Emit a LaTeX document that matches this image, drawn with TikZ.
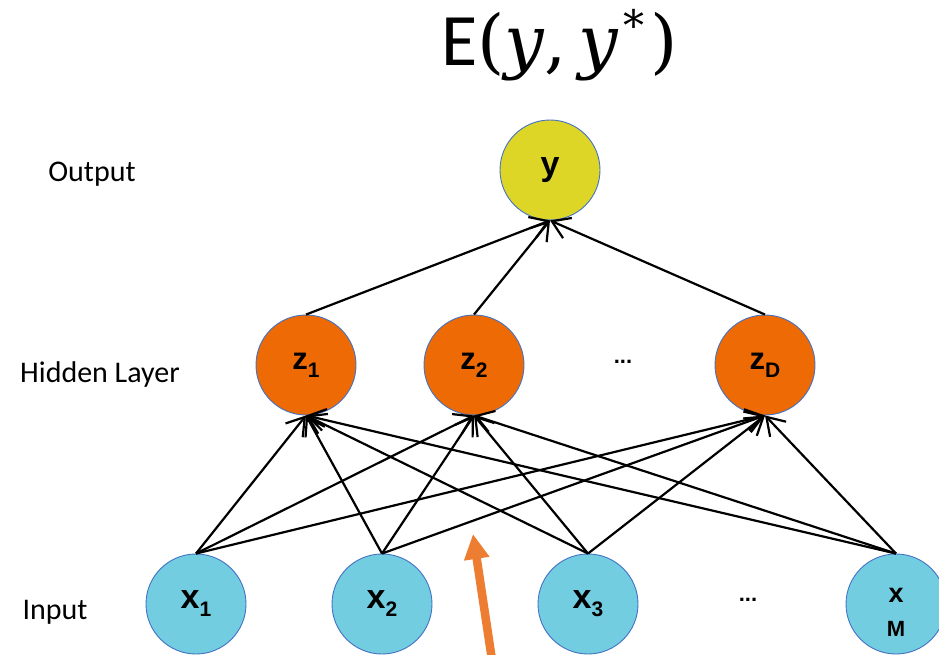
\documentclass[tikz,border=0pt]{standalone}
\usepackage{fontspec}
\setmainfont{Carlito}
\newfontfamily\arialfont{Liberation Sans}
\newfontfamily\titleserif{DejaVu Serif}
\usetikzlibrary{arrows.meta}
\definecolor{ycol}{RGB}{222,214,38}
\definecolor{zcol}{RGB}{237,106,5}
\definecolor{xcol}{RGB}{114,205,224}
\definecolor{rim}{RGB}{68,114,196}
\definecolor{orangearrow}{RGB}{237,125,49}
\newcommand\lsub[1]{\raisebox{-8pt}{\fontsize{21}{21}\selectfont #1}}
\begin{document}
\begin{tikzpicture}[x=1pt,y=-1pt,
  neuron/.style={circle,draw=rim,line width=0.9pt,minimum size=100pt,inner sep=0pt,
    font=\arialfont\bfseries\fontsize{34}{36}\selectfont},
  outnode/.style={neuron,fill=ycol},
  hidnode/.style={neuron,fill=zcol,font=\arialfont\bfseries\fontsize{31}{33}\selectfont},
  innode/.style={neuron,fill=xcol},
  conn/.style={line width=2.2pt,-{Straight Barb[length=17pt,width=22pt]}},
  layerlabel/.style={font=\fontsize{30}{36}\selectfont},
  dotsnode/.style={font=\arialfont\bfseries\fontsize{22}{22}\selectfont}
]
\clip (0,0) rectangle (939,655);
\fill[white] (0,0) rectangle (939,655);
% title
\node[anchor=base west,inner sep=0pt] (title) at (441,66)
  {\fontsize{74}{80}\selectfont E{\titleserif\fontsize{70}{76}\selectfont (\textit{y},\kern12pt\textit{y}\kern5pt\raisebox{0.36em}{\fontsize{42}{42}\selectfont *}\kern6pt)}};
% layer labels
\node[layerlabel] (lout) at (92,174) {Output};
\node[layerlabel] (lhid) at (100,374) {Hidden Layer};
\node[layerlabel] (lin) at (55,612) {Input};
% nodes
\node[outnode] (y) at (550,170) {y};
\node[hidnode] (z1) at (306,365) {z\lsub{1}};
\node[hidnode] (z2) at (474,365) {z\lsub{2}};
\node[hidnode] (zD) at (765,365) {z\lsub{D}};
\node[dotsnode] (hdots) at (623,362) {...};
\node[innode] (x1) at (196,604) {x\lsub{1}};
\node[innode] (x2) at (382,604) {x\lsub{2}};
\node[innode] (x3) at (588,604) {x\lsub{3}};
\node[innode] (xM) at (896,604)
  {\raisebox{-32pt}[0pt][0pt]{\shortstack{\fontsize{27}{27}\selectfont x\\[15pt]\fontsize{22}{22}\selectfont M}}};
\node[dotsnode] (idots) at (748,600) {...};
% connectors
\foreach \i in {x1,x2,x3,xM}{
  \foreach \j in {z1,z2,zD}{
    \draw[conn] (\i.north) -- (\j.south);
  }
}
\foreach \j in {z1,z2,zD}{
  \draw[conn] (\j.north) -- (y.south);
}
% orange arrow
\coordinate (oa) at (492,660);
\coordinate (ob) at (473,534);
\draw[orangearrow,line width=8.5pt,-{Triangle[length=25pt,width=24pt]}] (oa) -- (ob);
\end{tikzpicture}
\end{document}
